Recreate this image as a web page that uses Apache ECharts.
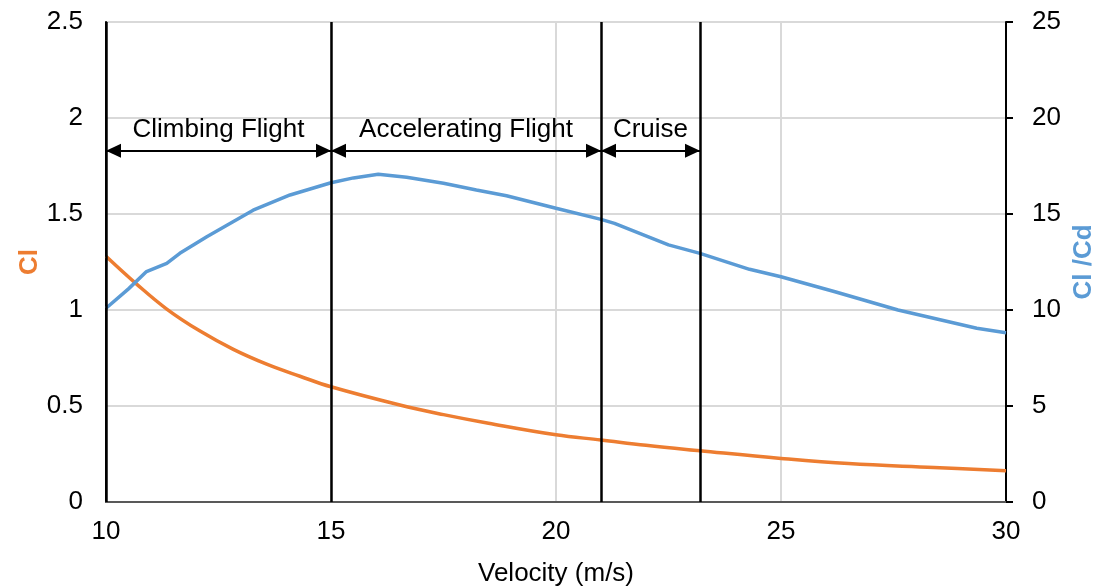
<!DOCTYPE html>
<html>
<head>
<meta charset="utf-8">
<script src="https://cdn.jsdelivr.net/npm/echarts@6/dist/echarts.min.js"></script>
<style>
html,body{margin:0;padding:0;background:#fff;}
#chart{width:1095px;height:586px;}
</style>
</head>
<body>
<div id="chart"></div>
<script>
// Cl curve (left axis)
const velocityCl = [10, 10.68, 11.35, 12.09, 12.83, 13.57, 14.31, 15, 16.53, 17.5, 18.5, 20, 21, 22, 23.2, 25, 26.5, 28.4, 30];
const clValues   = [1.28, 1.135, 1.005, 0.89, 0.795, 0.718, 0.655, 0.60, 0.505, 0.455, 0.41, 0.35, 0.323, 0.295, 0.267, 0.227, 0.20, 0.18, 0.163];
// Cl/Cd curve (right axis)
const velocityLD = [10, 10.5, 10.9, 11.35, 11.64, 12.24, 13.27, 14.09, 15, 15.5, 16.05, 16.68, 17.5, 18.23, 18.9, 20, 21, 21.3, 22.5, 23.2, 24.3, 25, 26.2, 27.6, 29.35, 30];
const ldValues   = [10.09, 11.1, 12.0, 12.43, 12.95, 13.82, 15.2, 15.99, 16.63, 16.88, 17.07, 16.91, 16.6, 16.25, 15.95, 15.3, 14.72, 14.51, 13.39, 12.95, 12.12, 11.73, 10.95, 10.0, 9.05, 8.82];
// flight phases
const phaseBounds = [10, 15, 21, 23.2];
const phaseNames = ['Climbing Flight', 'Accelerating Flight', 'Cruise'];
const arrowLevel = 1.83;
// axis ticks
const xTicks = {min: 10, max: 30, interval: 5};
const yLeftTicks = {min: 0, max: 2.5, interval: 0.5};
const yRightTicks = {min: 0, max: 25, interval: 5};

const FONT = "'Liberation Sans', Arial, sans-serif";
const FS = 26;
const chart = echarts.init(document.getElementById('chart'), null, {renderer: 'canvas'});

const clData = velocityCl.map((v, i) => [v, clValues[i]]);
const ldData = velocityLD.map((v, i) => [v, ldValues[i]]);

const arrowData = phaseNames.map((name, i) => [
  {coord: [phaseBounds[i], arrowLevel], name: name},
  {coord: [phaseBounds[i + 1], arrowLevel]}
]);
const vLineData = phaseBounds.map(b => ({xAxis: b}));
// triangle whose tip sits at the symbol centre
const arrowHead = 'path://M0,20 L10,40 L-10,40 Z M0,0 L0,0';

chart.setOption({
  animation: false,
  textStyle: {fontFamily: FONT},
  grid: {left: 106, right: 89, top: 22, bottom: 84, containLabel: false, outerBoundsMode: 'none'},
  xAxis: {
    type: 'value',
    min: xTicks.min, max: xTicks.max, interval: xTicks.interval,
    name: 'Velocity (m/s)', nameLocation: 'middle', nameGap: 59, nameMoveOverlap: false,
    nameTextStyle: {fontSize: FS, color: '#000', fontFamily: FONT},
    axisLine: {show: true, lineStyle: {color: '#595959', width: 2}},
    axisTick: {show: false},
    axisLabel: {fontSize: FS, color: '#000', margin: 17, fontFamily: FONT},
    splitLine: {show: true, lineStyle: {color: '#d9d9d9', width: 2}}
  },
  yAxis: [
    {
      type: 'value', position: 'left',
      min: yLeftTicks.min, max: yLeftTicks.max, interval: yLeftTicks.interval,
      name: 'Cl', nameLocation: 'middle', nameGap: 63, nameRotate: 90, nameMoveOverlap: false,
      nameTextStyle: {fontSize: FS, fontWeight: 'bold', color: '#ED7D31', fontFamily: FONT},
      axisLine: {show: true, lineStyle: {color: '#000', width: 2}},
      axisTick: {show: false},
      axisLabel: {fontSize: FS, color: '#000', margin: 23, fontFamily: FONT},
      splitLine: {show: true, lineStyle: {color: '#d9d9d9', width: 2}}
    },
    {
      type: 'value', position: 'right',
      min: yRightTicks.min, max: yRightTicks.max, interval: yRightTicks.interval,
      name: 'Cl /Cd', nameLocation: 'middle', nameGap: 65, nameRotate: 90, nameMoveOverlap: false,
      nameTextStyle: {fontSize: FS, fontWeight: 'bold', color: '#5B9BD5', fontFamily: FONT},
      axisLine: {show: true, lineStyle: {color: '#000', width: 2}},
      axisTick: {show: true, length: 7, lineStyle: {color: '#000', width: 2}},
      axisLabel: {fontSize: FS, color: '#000', margin: 26, fontFamily: FONT},
      splitLine: {show: false}
    }
  ],
  series: [
    {
      name: 'Cl', type: 'line', yAxisIndex: 0, data: clData,
      showSymbol: false, smooth: 0.4,
      lineStyle: {color: '#ED7D31', width: 3.5},
      itemStyle: {color: '#ED7D31'},
      z: 3,
      markLine: {
        silent: true, animation: false,
        symbol: [arrowHead, arrowHead], symbolSize: [14, 30],
        lineStyle: {color: '#000', width: 2, type: 'solid'},
        itemStyle: {color: '#000'},
        label: {
          show: true, position: 'middle', formatter: p => p.name,
          fontSize: FS, color: '#000', fontFamily: FONT, distance: 8
        },
        data: arrowData
      }
    },
    {
      name: 'Cl/Cd', type: 'line', yAxisIndex: 1, data: ldData,
      showSymbol: false, smooth: false,
      lineStyle: {color: '#5B9BD5', width: 3.5},
      itemStyle: {color: '#5B9BD5'},
      z: 3,
      markLine: {
        silent: true, animation: false,
        symbol: ['none', 'none'],
        lineStyle: {color: '#000', width: 2.5, type: 'solid'},
        label: {show: false},
        data: vLineData
      }
    }
  ]
});
</script>
</body>
</html>
